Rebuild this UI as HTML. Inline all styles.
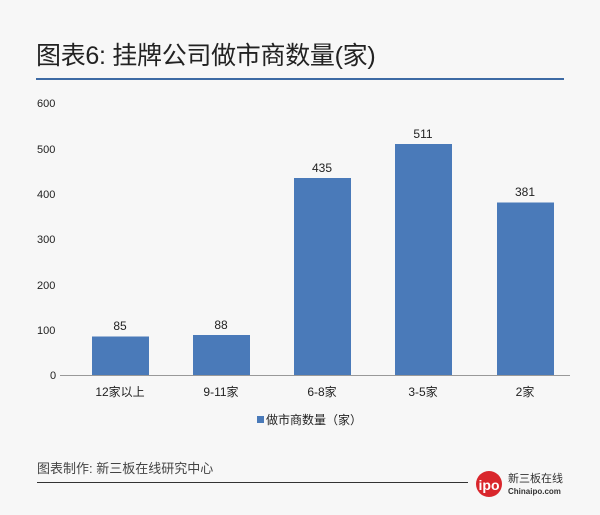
<html><head><style>
body{margin:0;width:600px;height:515px;background:#f7f7f7;font-family:"Liberation Sans","Noto Sans CJK SC",sans-serif;position:relative;overflow:hidden}
.a{position:absolute}
</style></head><body>
<div class="a" style="left:36px;top:36px;font-size:25px;color:#222;white-space:nowrap;letter-spacing:-0.3px">图表6: 挂牌公司做市商数量(家)</div>
<div class="a" style="left:36px;top:78px;width:528px;height:2px;background:#3d6aa4"></div>
<svg class="a" style="left:0;top:0" width="600" height="515" font-family="Liberation Sans,Noto Sans CJK SC,sans-serif">
<g font-size="11" fill="#222">
<text x="37" y="107">600</text><text x="37" y="153">500</text><text x="37" y="198">400</text><text x="37" y="243">300</text><text x="37" y="289">200</text><text x="37" y="334">100</text><text x="50" y="379">0</text>
</g>
<line x1="60" y1="375.5" x2="570" y2="375.5" stroke="#999"/>
<g fill="#4a7ab9">
<rect x="92" y="336.5" width="57" height="38.5"/>
<rect x="193" y="335" width="57" height="40"/>
<rect x="294" y="178" width="57" height="197"/>
<rect x="395" y="144" width="57" height="231"/>
<rect x="497" y="202.5" width="57" height="172.5"/>
</g>
<g font-size="12" fill="#222" text-anchor="middle">
<text x="120" y="330">85</text><text x="221" y="329">88</text><text x="322" y="172">435</text><text x="423" y="138">511</text><text x="525" y="196">381</text>
<text x="120" y="396">12家以上</text><text x="221" y="396">9-11家</text><text x="322" y="396">6-8家</text><text x="423" y="396">3-5家</text><text x="525" y="396">2家</text>
</g>
<rect x="257" y="416" width="7" height="7" fill="#4a7ab9"/>
<text x="266" y="424" font-size="12" fill="#222">做市商数量（家）</text>
<text x="37" y="473" font-size="13" fill="#444">图表制作: 新三板在线研究中心</text>
<line x1="37" y1="482.5" x2="468" y2="482.5" stroke="#333"/>
<circle cx="489" cy="484" r="13" fill="#d9262c"/>
<text x="489" y="490" font-size="14" font-weight="bold" fill="#fff" text-anchor="middle">ipo</text>
<text x="508" y="482" font-size="11" fill="#333">新三板在线</text>
<text x="508" y="494" font-size="8" font-weight="bold" fill="#333">Chinaipo.com</text>
</svg>
</body></html>
